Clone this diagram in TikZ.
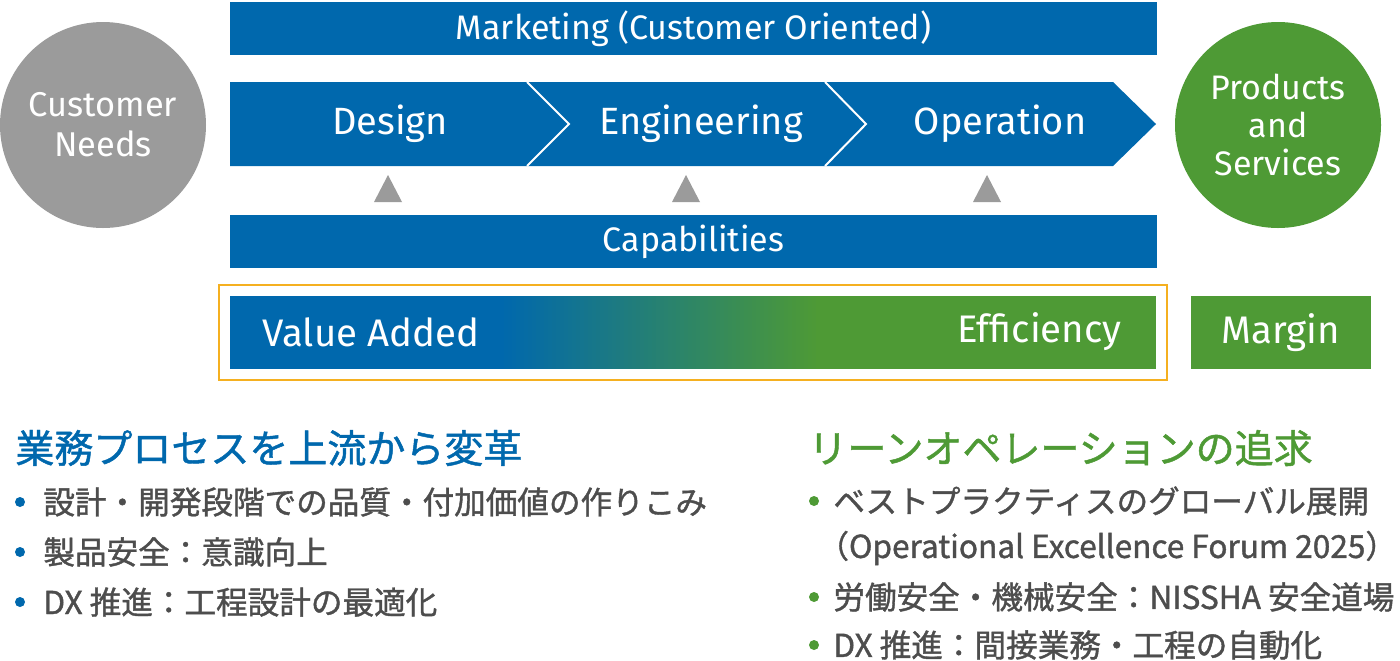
\documentclass[tikz,border=0pt]{standalone}
\usepackage{fontspec}
\setmainfont{Fira Sans}
\newfontfamily\jpfont{Noto Sans CJK JP}[FakeBold=1.2]
\usepackage{tikz}
\usetikzlibrary{positioning}
\definecolor{nblue}{HTML}{0068AD}
\definecolor{ngreen}{HTML}{4E9A35}
\definecolor{ngray}{HTML}{9B9B9B}
\definecolor{norange}{HTML}{F5B020}
\definecolor{ntext}{HTML}{4D4D4D}
\tikzset{
  bar/.style={fill=nblue, text=white, inner sep=0pt,
    minimum width=463.5pt, minimum height=26.5pt,
    font=\fontsize{17}{20}\selectfont},
  ball/.style={circle, text=white, inner sep=0pt, minimum size=103pt,
    align=center, font=\fontsize{17.2}{20}\selectfont},
  step label/.style={text=white, font=\fontsize{19}{22}\selectfont},
  big label/.style={text=white, inner sep=0pt, font=\fontsize{19.2}{22}\selectfont},
  jphead/.style={anchor=west, inner sep=0pt, font=\jpfont\fontsize{19.5}{22}\selectfont},
  jpitem/.style={anchor=west, inner sep=0pt, text=ntext, font=\jpfont\fontsize{15.8}{19}\selectfont},
  dot/.style={circle, fill=#1, inner sep=0pt, minimum size=5pt}
}
\begin{document}
\begin{tikzpicture}[x=0.5pt, y=-0.5pt]

\useasboundingbox (0,0) rectangle (1400,660);

% ---------- Circles ----------
\node[ball, fill=ngray] (needs) at (103,125) {Customer\\Needs};
\node[ball, fill=ngreen, font=\fontsize{17}{19}\selectfont] (products) at (1278,125) {Products\\and\\Services};

% ---------- Marketing ----------
\node[bar] (marketing) at (693.5,28.5) {Marketing (Customer Oriented)};

% ---------- Process arrow ----------
\fill[nblue] (230,82) -- (1113,82) -- (1156,124) -- (1113,166) -- (230,166) -- cycle;
\draw[white, line width=1pt] (527,82) -- (569,124) -- (527,166);
\draw[white, line width=1pt] (825,82) -- (866,124) -- (825,166);

\node[step label] (design) at (390,124) {Design};
\node[step label] (engineering) at (701,124) {Engineering};
\node[step label] (operation) at (1000,124) {Operation};

% Small triangles
\foreach \x in {388,686,987}{
  \fill[ngray] (\x-14,202) -- (\x,175) -- (\x+14,202) -- cycle;
}

% ---------- Capabilities ----------
\node[bar] (capabilities) at (693.5,241.5) {Capabilities};

% ---------- Value added / efficiency ----------
\draw[norange, line width=1.2pt] (219,285) rectangle (1167,380);
\fill[nblue] (230,296) rectangle (501,369);
\foreach \i in {0,...,79}{
  \pgfmathsetmacro\p{100*\i/79}
  \fill[ngreen!\p!nblue] (500+4*\i,296) rectangle (504.5+4*\i,369);
}
\fill[ngreen] (820,296) rectangle (1156,369);

\node[big label, anchor=west] (value) at (262,332) {Value Added};
\node[big label, anchor=east] (efficiency) at (1122,332) {Efficiency};

\node[big label, fill=ngreen, minimum width=90pt, minimum height=36.5pt]
  (margin) at (1281,332.5) {Margin};

% ---------- Left list ----------
\node[jphead, text=nblue] (lefthead) at (15,448) {業務プロセスを上流から変革};
\foreach \y/\t [count=\i] in {
  502/設計・開発段階での品質・付加価値の作りこみ,
  552/製品安全：意識向上,
  602/DX 推進：工程設計の最適化
}{
  \node[dot=nblue] (ldot\i) at (20,\y) {};
  \node[jpitem] (litem\i) at (43,\y) {\t};
}

% ---------- Right list ----------
\node[jphead, text=ngreen] (righthead) at (808,448) {リーンオペレーションの追求};
\foreach \y/\t [count=\i] in {
  501/ベストプラクティスのグローバル展開,
  597/労働安全・機械安全：NISSHA 安全道場,
  645/DX 推進：間接業務・工程の自動化
}{
  \node[dot=ngreen] (rdot\i) at (814,\y) {};
  \node[jpitem] (ritem\i) at (833,\y) {\t};
}
\node[jpitem] (forum) at (817,548) {（Operational Excellence Forum 2025）};

\end{tikzpicture}
\end{document}
